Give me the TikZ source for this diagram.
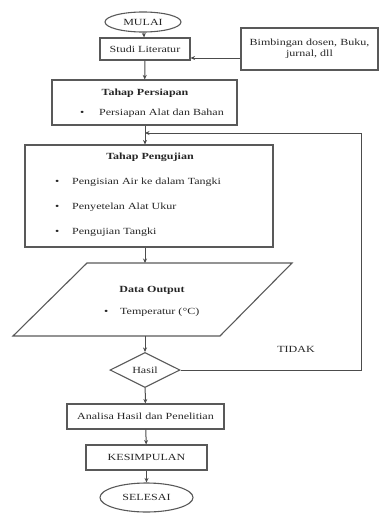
\documentclass[tikz,border=0pt]{standalone}
\usepackage{fontspec}
\setmainfont{Liberation Serif}[FakeStretch=1.28]
\usetikzlibrary{shapes, arrows.meta, positioning}

\begin{document}
\begin{tikzpicture}[x=1pt, y=-1pt,
        font=\fontsize{9.4}{11}\selectfont,
        every node/.style={text=black!85},
        terminal/.style={ellipse, draw=black!65, line width=1.1pt, inner sep=0pt},
        process/.style={rectangle, draw=black!65, line width=1.1pt, inner sep=0pt},
        decision/.style={diamond, draw=black!65, line width=1.1pt, inner sep=0pt, aspect=2},
        item/.style={anchor=west, inner sep=0pt},
        flow/.style={draw=black!70, line width=1pt, -{Stealth[length=4.5pt, width=4pt]}},
    ]
\useasboundingbox (0,0) rectangle (381,514);

\node[terminal, minimum width=76pt, minimum height=20pt] (Mulai) at (143,22) {MULAI};
\node[process, minimum width=90pt, minimum height=22pt] (Studi) at (145,49) {Studi Literatur};
\node[process, minimum width=137pt, minimum height=42pt, align=center] (Bimbingan) at (309.5,49) {Bimbingan dosen, Buku,\\jurnal, dll};

\node[process, minimum width=185pt, minimum height=45pt] (Persiapan) at (144.5,102.5) {};
\node[inner sep=0pt] (PersiapanTitle) at (145,93) {\textbf{Tahap Persiapan}};
\node[item] (PersiapanBullet) at (80,113) {\textbullet};
\node[item] (PersiapanItem) at (99,113) {Persiapan Alat dan Bahan};

\coordinate (Join) at (145,133);

\node[process, minimum width=248pt, minimum height=102pt] (Pengujian) at (149,196) {};
\node[inner sep=0pt] (PengujianTitle) at (150,157) {\textbf{Tahap Pengujian}};
\foreach \y/\txt [count=\i] in {182/Pengisian Air ke dalam Tangki, 207/Penyetelan Alat Ukur, 232/Pengujian Tangki}{
  \node[item] (PengujianBullet\i) at (55,\y) {\textbullet};
  \node[item] (PengujianItem\i) at (72,\y) {\txt};
}

% parallelogram for the output data
\coordinate (OutputTop) at (145,263);
\coordinate (OutputBottom) at (145,336);
\draw[draw=black!65, line width=1.1pt] (87,263) -- (292,263) -- (220,336) -- (13,336) -- cycle;
\node[inner sep=0pt] (OutputTitle) at (152,290) {\textbf{Data Output}};
\node[item] (OutputBullet) at (104,312) {\textbullet};
\node[item] (OutputItem) at (120,312) {Temperatur (°C)};

\node[decision, minimum width=70pt, minimum height=35pt] (Hasil) at (145,370) {Hasil};
\node (Tidak) at (296,349) {TIDAK};
\coordinate (LoopCorner1) at (361,370);
\coordinate (LoopCorner2) at (361,133);

\node[process, minimum width=157pt, minimum height=25pt] (Analisa) at (145.5,416.5) {Analisa Hasil dan Penelitian};
\node[process, minimum width=121pt, minimum height=25pt] (Kesimpulan) at (146.5,457.5) {KESIMPULAN};
\node[terminal, minimum width=93pt, minimum height=29pt] (Selesai) at (146.5,497.5) {SELESAI};

\draw[flow] (Mulai) -- (Studi);
\draw[flow] ([yshift=-9pt]Bimbingan.west) -- ([yshift=-9pt]Studi.east);
\draw[flow] (Studi) -- (Persiapan);
\draw[flow] (Persiapan.south -| Join) -- (Pengujian.north -| Join);
\draw[flow] (Pengujian.south -| OutputTop) -- (OutputTop);
\draw[flow] (OutputBottom) -- (Hasil);
\draw[flow] (Hasil.east) -- (LoopCorner1) -- (LoopCorner2) -- (Join);
\draw[flow] (Hasil) -- (Analisa);
\draw[flow] (Analisa) -- (Kesimpulan);
\draw[flow] (Kesimpulan) -- (Selesai);
\end{tikzpicture}
\end{document}
